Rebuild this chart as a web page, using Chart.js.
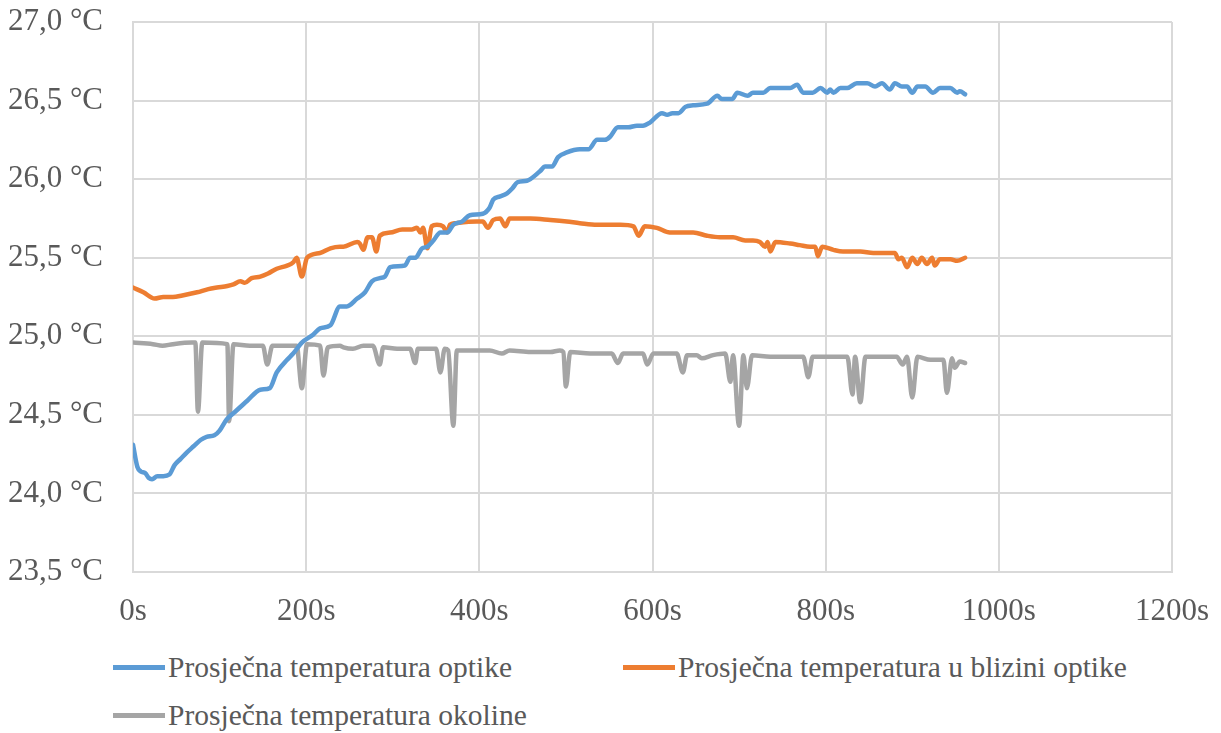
<!DOCTYPE html>
<html>
<head>
  <meta charset="UTF-8">
  <title>Prosječna temperatura</title>
  <script src="https://cdn.jsdelivr.net/npm/chart.js@4"></script>
  <style>
    body { margin: 0; background: #fff; }
    #wrap { position: relative; width: 1221px; height: 733px; font-family: "Liberation Serif", "Times New Roman", serif; }
    #legend .item { position: absolute; display: flex; align-items: center; font-size: 29.5px; color: #595959; white-space: nowrap; }
    #legend .swatch { width: 52px; height: 5px; margin-right: 3px; }
  </style>
</head>
<body>
<div id="wrap">
  <canvas id="chart" width="1221" height="640"></canvas>
  <div id="legend"></div>
</div>
<script>
  // vrijeme [s] i temperature [°C] očitane s grafa
  const optikaT = [0,5,9,14,18,22,28,35,42,48,55,62,70,78,85,94,100,108,118,132,147,158,166,178,185,195,208,216,228,239,247,259,268,276,285,291,297,314,320,326,334,340,347,355,363,370,380,389,404,412,416,424,432,438,444,455,470,476,484,491,501,516,526,536,545,551,560,572,582,589,597,611,617,623,630,638,647,663,675,680,692,698,710,716,728,736,759,767,774,785,794,802,805,809,817,825,836,848,857,865,874,880,888,894,900,906,915,924,932,944,952,955,961];
  const optikaV = [24.31,24.17,24.14,24.13,24.10,24.09,24.11,24.11,24.12,24.18,24.22,24.26,24.30,24.34,24.36,24.37,24.40,24.47,24.52,24.59,24.66,24.67,24.77,24.85,24.89,24.96,25.01,25.05,25.07,25.19,25.19,25.24,25.28,25.35,25.37,25.38,25.44,25.45,25.50,25.50,25.56,25.57,25.61,25.66,25.66,25.71,25.73,25.77,25.78,25.82,25.87,25.89,25.91,25.94,25.98,25.99,26.05,26.08,26.08,26.14,26.17,26.19,26.19,26.25,26.25,26.27,26.33,26.33,26.34,26.34,26.36,26.42,26.41,26.42,26.42,26.46,26.47,26.48,26.53,26.51,26.51,26.55,26.53,26.55,26.55,26.58,26.58,26.60,26.55,26.55,26.58,26.55,26.57,26.55,26.58,26.58,26.61,26.61,26.59,26.61,26.57,26.61,26.59,26.59,26.55,26.59,26.59,26.55,26.58,26.58,26.55,26.56,26.54];

  const blizinaT = [0,12,25,35,46,57,74,87,97,109,116,124,129,137,147,156,166,178,185,189,195,201,216,228,239,243,259,262,266,271,276,281,285,297,311,322,328,332,335,340,345,351,358,363,366,372,397,404,410,416,424,430,435,459,482,501,516,536,548,563,578,584,591,605,620,635,647,663,678,693,707,716,724,730,733,736,742,759,770,782,788,791,796,809,820,840,855,880,884,888,894,900,906,911,917,923,926,932,944,952,961];
  const blizinaV = [25.31,25.28,25.24,25.25,25.25,25.26,25.28,25.30,25.31,25.32,25.33,25.35,25.34,25.37,25.38,25.40,25.43,25.45,25.47,25.50,25.38,25.50,25.53,25.56,25.57,25.57,25.60,25.59,25.55,25.63,25.63,25.54,25.64,25.66,25.68,25.68,25.69,25.66,25.69,25.56,25.70,25.71,25.70,25.66,25.71,25.72,25.73,25.73,25.69,25.74,25.75,25.70,25.75,25.75,25.74,25.73,25.72,25.71,25.71,25.71,25.70,25.64,25.70,25.69,25.66,25.66,25.66,25.64,25.63,25.63,25.61,25.61,25.60,25.57,25.60,25.54,25.60,25.59,25.58,25.57,25.57,25.51,25.57,25.55,25.54,25.54,25.53,25.53,25.49,25.50,25.44,25.50,25.46,25.50,25.46,25.50,25.45,25.49,25.49,25.48,25.50];

  const okolinaT = [0,23,34,46,68,72,75,80,109,111,116,135,150,155,161,178,189,195,201,216,220,225,239,243,254,266,277,285,289,305,320,326,329,350,355,360,364,370,374,389,412,426,435,459,482,493,497,500,505,528,553,560,566,589,594,601,628,635,640,651,657,670,684,690,693,700,705,709,715,736,759,774,780,785,825,831,834,840,846,882,889,894,900,906,921,936,940,946,949,955,961];
  const okolinaV = [24.96,24.95,24.94,24.95,24.96,24.96,24.52,24.96,24.95,24.46,24.95,24.94,24.94,24.82,24.94,24.94,24.94,24.67,24.95,24.94,24.75,24.93,24.94,24.93,24.92,24.94,24.94,24.82,24.93,24.92,24.92,24.83,24.92,24.92,24.77,24.92,24.91,24.43,24.91,24.91,24.91,24.89,24.91,24.90,24.90,24.91,24.90,24.68,24.90,24.89,24.89,24.83,24.89,24.89,24.82,24.89,24.89,24.77,24.88,24.88,24.86,24.88,24.89,24.71,24.88,24.43,24.88,24.67,24.88,24.87,24.87,24.87,24.74,24.87,24.87,24.63,24.87,24.58,24.87,24.87,24.82,24.87,24.61,24.87,24.85,24.85,24.64,24.86,24.80,24.84,24.83];

  const nazivi = ['Prosječna temperatura optike', 'Prosječna temperatura u blizini optike', 'Prosječna temperatura okoline'];
  const boje = ['#5b9bd5', '#ed7d31', '#a5a5a5'];

  const serif = 'Liberation Serif';
  const tekst = '#595959';
  const mreza = '#d9d9d9';

  function tocke(t, v) {
    return t.map((x, i) => ({ x: x, y: v[i] }));
  }

  function crtaj() {
    const serije = [tocke(optikaT, optikaV), tocke(blizinaT, blizinaV), tocke(okolinaT, okolinaV)];

    new Chart(document.getElementById('chart'), {
      type: 'line',
      data: {
        datasets: serije.map((d, i) => ({
          label: nazivi[i],
          data: d,
          borderColor: boje[i],
          backgroundColor: boje[i],
          borderWidth: 4.5,
          pointRadius: 0,
          cubicInterpolationMode: 'monotone',
          borderJoinStyle: 'round',
          borderCapStyle: 'round'
        }))
      },
      options: {
        responsive: false,
        animation: false,
        layout: { padding: { top: 22, right: 49, left: 0, bottom: 0 } },
        plugins: { legend: { display: false }, tooltip: { enabled: false } },
        scales: {
          // razmak do oznaka preko nevidljivih crtica, padding bi pomaknuo rub grafa
          x: {
            type: 'linear', min: 0, max: 1200,
            afterFit: s => { s.height = 68; },
            grid: { color: mreza, lineWidth: 2, drawTicks: true, tickLength: 21, tickColor: 'rgba(0,0,0,0)' },
            border: { color: mreza, width: 2 },
            ticks: { stepSize: 200, padding: 0, color: tekst, font: { family: serif, size: 31 },
                     callback: v => v + 's' }
          },
          y: {
            min: 23.5, max: 27,
            afterFit: s => { s.width = 133; },
            grid: { color: mreza, lineWidth: 2, drawTicks: true, tickLength: 30, tickColor: 'rgba(0,0,0,0)' },
            border: { color: mreza, width: 2 },
            ticks: { stepSize: 0.5, padding: 0, color: tekst, font: { family: serif, size: 31 },
                     callback: v => v.toFixed(1).replace('.', ',') + ' °C' }
          }
        }
      }
    });

    // legenda u dva reda kao u originalu
    const mjesta = [[113, 651], [623, 651], [113, 699]];
    const leg = document.getElementById('legend');
    nazivi.forEach((n, i) => {
      const el = document.createElement('div');
      el.className = 'item';
      el.style.left = mjesta[i][0] + 'px';
      el.style.top = mjesta[i][1] + 'px';
      el.innerHTML = '<span class="swatch" style="background:' + boje[i] + '"></span>' + n;
      leg.appendChild(el);
    });
  }

  document.fonts.load('31px "Liberation Serif"').then(crtaj, crtaj);
</script>
</body>
</html>
